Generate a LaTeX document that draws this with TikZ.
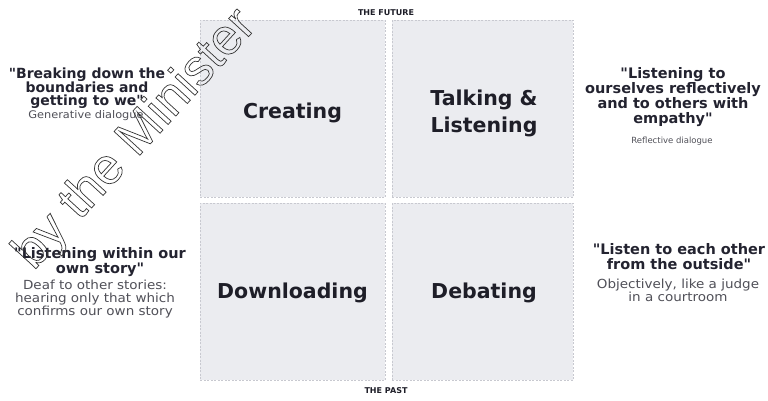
\documentclass[tikz,border=0pt]{standalone}
\usepackage{fontspec}
\setmainfont{DejaVu Sans}[Ligatures=TeXOff]
\newfontfamily\notefont{DejaVu Sans}[Ligatures=TeXOff, FakeStretch=1.08]
\newfontfamily\markfont{Liberation Sans}
% hollow letters: stroke the glyph outlines only
\newcommand\hollow[1]{\special{pdf:literal direct 1 Tr 0.7 w}#1\special{pdf:literal direct 0 Tr}}
\definecolor{cellfill}{RGB}{235,236,240}
\definecolor{celledge}{RGB}{200,201,208}
\definecolor{labelink}{RGB}{30,30,40}
\definecolor{quoteink}{RGB}{35,35,48}
\definecolor{noteink}{RGB}{80,80,88}
\begin{document}
\begin{tikzpicture}[x=1pt,y=-1pt,
  cell/.style={fill=cellfill, draw=celledge, line width=0.5pt, dash pattern=on 2pt off 1.5pt,
    minimum width=185pt, minimum height=177pt, inner sep=0, anchor=north west},
  stage/.style={font=\bfseries\fontsize{20.5}{27}\selectfont, text=labelink, align=center, inner sep=0},
  quote/.style={font=\bfseries\fontsize{14.5}{15}\selectfont, text=quoteink, align=center, inner sep=0},
  note/.style={font=\notefont\fontsize{12.5}{13}\selectfont, text=noteink, align=center, inner sep=0},
  axis/.style={font=\bfseries\fontsize{8}{10}\selectfont, text=labelink, inner sep=0},
  slanttext/.style={rotate=47.5, inner sep=0}]
\useasboundingbox (0,0) rectangle (768,401);
\fill[white] (0,0) rectangle (768,401);

% the four quadrants
\node[cell] (creating)    at (200,20)  {};
\node[cell, minimum width=181pt] (talking) at (392,20) {};
\node[cell] (downloading) at (200,203) {};
\node[cell, minimum width=181pt] (debating) at (392,203) {};

% quadrant names
\node[stage] (creating-t)    at (292.5,113) {Creating};
\node[stage] (talking-t)     at (484,113.5) {Talking \&\\Listening};
\node[stage] (downloading-t) at (292.5,293) {Downloading};
\node[stage] (debating-t)    at (484,293)   {Debating};

% time axis
\node[axis] (future) at (386,13)  {THE FUTURE};
\node[axis] (past)   at (386,391) {THE PAST};

% kinds of dialogue
\node[quote, font=\bfseries\fontsize{14}{12.8}\selectfont] (q-gen) at (87,88) {"Breaking down the\\boundaries and\\getting to we"};
\node[note, font=\notefont\fontsize{10.5}{12}\selectfont] (n-gen) at (86,116) {Generative dialogue};

\node[quote] (q-ref) at (673,97) {"Listening to\\ourselves reflectively\\and to others with\\empathy"};
\node[note, font=\fontsize{8.5}{10}\selectfont] (n-ref) at (672,141) {Reflective dialogue};

\node[quote] (q-down) at (100,262.5) {"Listening within our\\own story"};
\node[note]  (n-down) at (95,299) {Deaf to other stories:\\hearing only that which\\confirms our own story};

\node[quote] (q-deb) at (679,256.5) {"Listen to each other\\from the outside"};
\node[note]  (n-deb) at (678,290) {Objectively, like a judge\\in a courtroom};

% hollow diagonal lettering
\node[slanttext, font=\markfont\fontsize{51}{51}\selectfont, text=black!80] (byline) at (136,140) {\hollow{by the Minister}};
\end{tikzpicture}
\end{document}
